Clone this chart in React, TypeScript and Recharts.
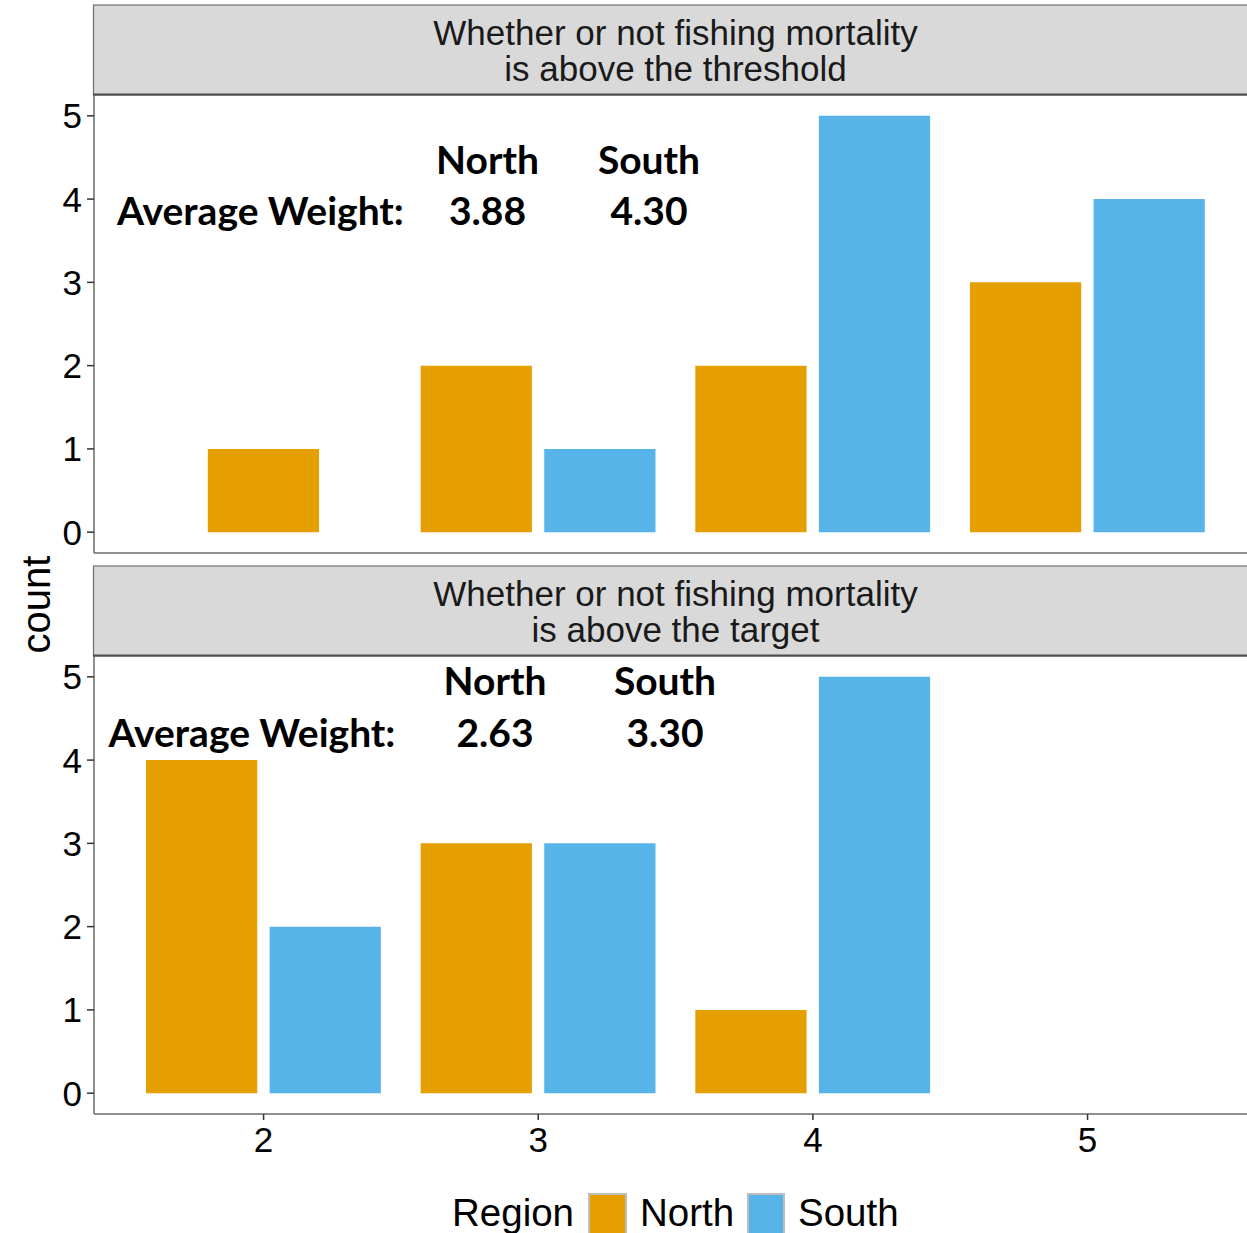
import React from 'react';
import { BarChart, Bar, XAxis, YAxis, Cell } from 'recharts';

const categories = [2, 3, 4, 5];
const regions = ['North', 'South'];
const thresholdNorth = [1, 2, 2, 3];
const thresholdSouth = [0, 1, 5, 4];
const targetNorth = [4, 3, 1, 0];
const targetSouth = [2, 3, 5, 0];
const yTicks = [0, 1, 2, 3, 4, 5];
const xTicks = [2, 3, 4, 5];
const thresholdAvg = ['3.88', '4.30'];
const targetAvg = ['2.63', '3.30'];
const stripTitles = [
  ['Whether or not fishing mortality', 'is above the threshold'],
  ['Whether or not fishing mortality', 'is above the target'],
];

const COLORS: Record<string, string> = { North: '#E69F00', South: '#56B4E9' };
const SANS = '"Liberation Sans", Arial, sans-serif';
const BOLD = 'Lato, "Open Sans", sans-serif';

const X_DOMAIN: [number, number] = [1.3825, 5.5805];
const Y_DOMAIN: [number, number] = [-0.25, 5.25];
const W = 1247;
const Y_AXIS_W = 94;
const PLOT_W = W - Y_AXIS_W;
const BAR_W = (0.405 * PLOT_W) / (X_DOMAIN[1] - X_DOMAIN[0]);
const DODGE = 0.225;

function buildRows(north: number[], south: number[]) {
  const rows: { pos: number; count: number; region: string }[] = [];
  categories.forEach((c, i) => {
    const present = [
      { region: regions[0], count: north[i] },
      { region: regions[1], count: south[i] },
    ].filter((d) => d.count > 0);
    present.forEach((d, j) => {
      const off = present.length === 2 ? (j === 0 ? -DODGE : DODGE) : 0;
      rows.push({ pos: c + off, count: d.count, region: d.region });
    });
  });
  return rows;
}

const topRows = buildRows(thresholdNorth, thresholdSouth);
const bottomRows = buildRows(targetNorth, targetSouth);

const yAxisProps = {
  type: 'number' as const,
  domain: Y_DOMAIN,
  ticks: yTicks,
  interval: 0 as const,
  width: Y_AXIS_W,
  tickSize: 7,
  tickMargin: 5,
  axisLine: { stroke: '#6b6b6b', strokeWidth: 1.5 },
  tickLine: { stroke: '#333333', strokeWidth: 1.5 },
  tick: { fill: '#000000', fontSize: 35, fontFamily: SANS },
  allowDataOverflow: true,
};

function Panel({ rows, showX, height }: { rows: any[]; showX: boolean; height: number }) {
  return (
    <BarChart width={W} height={height} data={rows} margin={{ top: 0, right: 0, bottom: 0, left: 0 }}>
      <XAxis
        type="number"
        dataKey="pos"
        domain={X_DOMAIN}
        allowDataOverflow
        ticks={xTicks}
        interval={0}
        height={showX ? 60 : 1}
        tick={showX ? { fill: '#000000', fontSize: 35, fontFamily: SANS } : false}
        tickLine={showX ? { stroke: '#333333', strokeWidth: 1.5 } : false}
        tickSize={6}
        tickMargin={7}
        axisLine={{ stroke: '#6b6b6b', strokeWidth: 1.5 }}
      />
      <YAxis {...yAxisProps} />
      <Bar dataKey="count" barSize={BAR_W} isAnimationActive={false}>
        {rows.map((r, i) => (
          <Cell key={i} fill={COLORS[r.region]} />
        ))}
      </Bar>
    </BarChart>
  );
}

function Strip({ y, lines }: { y: number; lines: string[] }) {
  return (
    <g>
      <rect x={93.5} y={y} width={1200} height={90} fill="#D9D9D9" stroke="#707070" strokeWidth={1.2} />
      <line x1={93} x2={W} y1={y + 89.5} y2={y + 89.5} stroke="#4d4d4d" strokeWidth={2} />
      <text x={675.5} y={y + 39.5} textAnchor="middle" fontFamily={SANS} fontSize={35} fill="#1a1a1a">
        {lines[0]}
      </text>
      <text x={675.5} y={y + 76} textAnchor="middle" fontFamily={SANS} fontSize={35} fill="#1a1a1a">
        {lines[1]}
      </text>
    </g>
  );
}

function Annot({ y1, y2, xs, avg }: { y1: number; y2: number; xs: number[]; avg: string[] }) {
  const st = { fontFamily: BOLD, fontWeight: 700, fontSize: 39, fill: '#000000' } as const;
  return (
    <g>
      <text x={xs[1]} y={y1} textAnchor="middle" {...st}>{regions[0]}</text>
      <text x={xs[2]} y={y1} textAnchor="middle" {...st}>{regions[1]}</text>
      <text x={xs[0]} y={y2} textAnchor="middle" {...st}>Average Weight:</text>
      <text x={xs[1]} y={y2} textAnchor="middle" {...st}>{avg[0]}</text>
      <text x={xs[2]} y={y2} textAnchor="middle" {...st}>{avg[1]}</text>
    </g>
  );
}

export default function App() {
  return (
    <div style={{ position: 'absolute', left: 0, top: 0, width: W, height: 1233, background: '#ffffff', overflow: 'hidden' }}>
      <div style={{ position: 'absolute', left: 0, top: 95 }}>
        <Panel rows={topRows} showX={false} height={459} />
      </div>
      <div style={{ position: 'absolute', left: 0, top: 656 }}>
        <Panel rows={bottomRows} showX={true} height={518} />
      </div>
      <svg width={W} height={1233} style={{ position: 'absolute', left: 0, top: 0, pointerEvents: 'none' }}>
        <Strip y={5} lines={stripTitles[0]} />
        <Strip y={566} lines={stripTitles[1]} />
        <Annot y1={174} y2={225} xs={[260.5, 487.5, 649]} avg={thresholdAvg} />
        <Annot y1={695} y2={747} xs={[252, 495, 665]} avg={targetAvg} />
        <text
          x={50}
          y={604.5}
          transform="rotate(-90, 50, 604.5)"
          textAnchor="middle"
          fontFamily={SANS}
          fontSize={40}
          fill="#000000"
        >
          count
        </text>
        <text x={452} y={1226} fontFamily={SANS} fontSize={38.5} fill="#000000">Region</text>
        <rect x={589} y={1194} width={37} height={42} fill={COLORS.North} stroke="#BDBDBD" strokeWidth={2} />
        <text x={640} y={1226} fontFamily={SANS} fontSize={38.5} fill="#000000">{regions[0]}</text>
        <rect x={748} y={1194} width={36} height={42} fill={COLORS.South} stroke="#BDBDBD" strokeWidth={2} />
        <text x={798} y={1226} fontFamily={SANS} fontSize={38.5} fill="#000000">{regions[1]}</text>
      </svg>
    </div>
  );
}
